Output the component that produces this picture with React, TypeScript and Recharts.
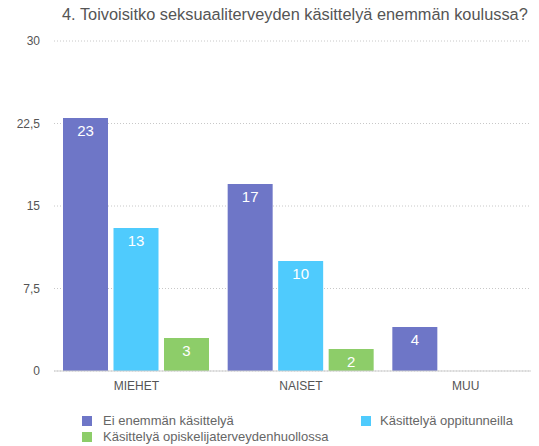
import React from 'react';
import { BarChart, Bar, XAxis, YAxis, CartesianGrid, LabelList } from 'recharts';

const categories = ['MIEHET', 'NAISET', 'MUU'];
const eiEnemman = [23, 17, 4];
const oppitunneilla = [13, 10, 0];
const terveydenhuolto = [3, 2, 0];
const yTicks = [0, 7.5, 15, 22.5, 30];

const seriesNames = ['Ei enemmän käsittelyä', 'Käsittelyä oppitunneilla', 'Käsittelyä opiskelijaterveydenhuollossa'];
const colors = ['#6e76c7', '#4fcbfd', '#8dcd69'];

const data = categories.map((c, i) => ({
  name: c,
  a: eiEnemman[i],
  b: oppitunneilla[i],
  c: terveydenhuolto[i],
}));

const FONT = '"Liberation Sans", Arial, Helvetica, sans-serif';

const renderLabel = (props: any) => {
  const { x, y, width, value } = props;
  const isZero = Number(value) === 0;
  return (
    <text
      x={x + width / 2}
      y={isZero ? y - 6 : y + 7}
      fill={isZero ? '#e6e6e6' : '#ffffff'}
      fontSize={15}
      fontFamily={FONT}
      textAnchor="middle"
      dominantBaseline={isZero ? 'auto' : 'hanging'}
    >
      {value}
    </text>
  );
};

const fmt = (v: number) => String(v).replace('.', ',');

export default function App() {
  return (
    <div style={{ position: 'relative', width: 531, height: 438, fontFamily: FONT }}>
      <div style={{ position: 'absolute', top: 0, left: 0, width: 531, height: 438, overflow: 'hidden' }}>
        <BarChart
          width={540}
          height={400}
          data={data}
          margin={{ top: 33, right: 0, bottom: 7, left: 0 }}
          barSize={45}
          barGap={5.5}
        >
          <CartesianGrid horizontal vertical={false} stroke="#c8c8c8" strokeDasharray="1 2" />
          <XAxis
            dataKey="name"
            axisLine={{ stroke: '#cfcfcf' }}
            tickLine={false}
            height={30}
            tick={{ fill: '#555', fontSize: 12, fontFamily: FONT }}
            tickMargin={4}
          />
          <YAxis
            domain={[0, 30]}
            ticks={yTicks}
            width={46}
            axisLine={false}
            tickLine={false}
            tickFormatter={fmt}
            tickMargin={8}
            tick={{ fill: '#555', fontSize: 12, fontFamily: FONT }}
          />
          <Bar dataKey="a" fill={colors[0]} isAnimationActive={false}>
            <LabelList dataKey="a" content={renderLabel} />
          </Bar>
          <Bar dataKey="b" fill={colors[1]} isAnimationActive={false}>
            <LabelList dataKey="b" content={renderLabel} />
          </Bar>
          <Bar dataKey="c" fill={colors[2]} isAnimationActive={false}>
            <LabelList dataKey="c" content={renderLabel} />
          </Bar>
        </BarChart>
      </div>
      <div
        style={{
          position: 'absolute',
          top: -3,
          left: 54,
          fontSize: 16.35,
          color: '#555',
          whiteSpace: 'nowrap',
        }}
      >
        4. Toivoisitko seksuaaliterveyden käsittelyä enemmän koulussa?
      </div>
      <div style={{ position: 'absolute', top: 405, left: 74, fontSize: 13, color: '#666', lineHeight: '16px' }}>
        {[0, 2].map((i) => (
          <div key={i} style={{ display: 'flex', alignItems: 'center', height: 16 }}>
            <span style={{ display: 'inline-block', width: 10, height: 10, background: colors[i], marginRight: 11 }} />
            {seriesNames[i]}
          </div>
        ))}
      </div>
      <div style={{ position: 'absolute', top: 405, left: 353, fontSize: 13, color: '#666', lineHeight: '16px' }}>
        <div style={{ display: 'flex', alignItems: 'center', height: 16 }}>
          <span style={{ display: 'inline-block', width: 10, height: 10, background: colors[1], marginRight: 9 }} />
          {seriesNames[1]}
        </div>
      </div>
    </div>
  );
}
